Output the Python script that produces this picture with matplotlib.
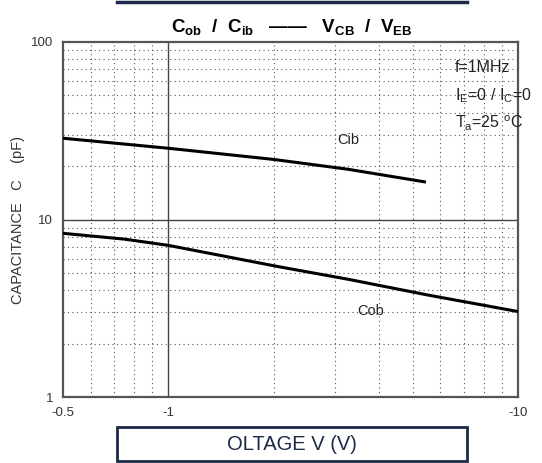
import numpy as np
import matplotlib
matplotlib.use("Agg")
import matplotlib.pyplot as plt
from matplotlib.patches import Rectangle
from matplotlib.lines import Line2D

plt.rcParams['font.family'] = ['Liberation Sans', 'DejaVu Sans']
plt.rcParams['mathtext.fontset'] = 'custom'
plt.rcParams['mathtext.rm'] = 'Liberation Sans'
plt.rcParams['mathtext.it'] = 'Liberation Sans'
plt.rcParams['mathtext.bf'] = 'Liberation Sans:bold'

# |V| in volts (reverse bias, shown as negative), capacitance in pF
cib_v = [0.5, 1.0, 2.0, 3.26, 5.4]
cib_c = [28.7, 25.2, 21.8, 19.2, 16.3]
cob_v = [0.5, 0.75, 1.0, 2.07, 3.26, 5.5, 10.0]
cob_c = [8.36, 7.75, 7.15, 5.42, 4.61, 3.76, 3.03]

x_ticks = [0.5, 1, 10]
x_ticklabels = ['-0.5', '-1', '-10']
y_ticks = [1, 10, 100]
y_ticklabels = ['1', '10', '100']

navy = '#1b2a48'
grid_col = '#555555'

fig = plt.figure(figsize=(5.42, 4.63), dpi=100)
ax = fig.add_axes([63/542, 1 - 397/463, (518 - 63)/542, (397 - 42)/463])
ax.set_xscale('log')
ax.set_yscale('log')
ax.set_xlim(0.5, 10)
ax.set_ylim(1, 100)

# dotted minor grid
for v in [0.6, 0.7, 0.8, 0.9, 2, 3, 4, 5, 6, 7, 8, 9]:
    ax.axvline(v, color=grid_col, lw=0.8, ls=(0, (1, 3)), zorder=1)
for c in [2, 3, 4, 5, 6, 7, 8, 9, 20, 30, 40, 50, 60, 70, 80, 90]:
    ax.axhline(c, color=grid_col, lw=0.8, ls=(0, (1, 3)), zorder=1)
ax.axvline(1, color='#444444', lw=1.0, zorder=1)
ax.axhline(10, color='#444444', lw=1.0, zorder=1)

ax.plot(cib_v, cib_c, color='black', lw=2.2, zorder=3)
ax.plot(cob_v, cob_c, color='black', lw=2.2, zorder=3)

ax.set_xticks(x_ticks)
ax.set_xticklabels(x_ticklabels)
ax.set_yticks(y_ticks)
ax.set_yticklabels(y_ticklabels)
ax.xaxis.set_minor_locator(plt.NullLocator())
ax.yaxis.set_minor_locator(plt.NullLocator())
ax.tick_params(length=0, labelsize=9.5, colors='#333333', pad=7)
for s in ax.spines.values():
    s.set_color('#555555')
    s.set_linewidth(1.6)

ax.set_ylabel('CAPACITANCE   C    (pF)', fontsize=10.5, color='#333333')
ax.yaxis.set_label_coords(-0.083, 0.5)

ax.text(3.28, 28.0, 'Cib', fontsize=10.5, color='#222222', ha='center', va='center')
ax.text(3.79, 3.04, 'Cob', fontsize=10.5, color='#222222', ha='center', va='center')

ax.text(6.6, 72, 'f=1MHz', fontsize=11.5, color='#222222', va='center')
ax.text(6.6, 50, r'I$_{\rm E}$=0 / I$_{\rm C}$=0', fontsize=11.5, color='#222222', va='center')
ax.text(6.6, 35, r'T$_{\rm a}$=25 $^{\rm o}$C', fontsize=11.5, color='#222222', va='center')

fig.text(292/542, 1 - 27/463,
         r'$\mathbf{C_{ob}}$  /  $\mathbf{C_{ib}}$   ——   $\mathbf{V_{CB}}$  /  $\mathbf{V_{EB}}$',
         fontsize=13.5, fontweight='bold', ha='center', va='center', color='black')

# header border line and footer box
fig.add_artist(Line2D([117/542, 467/542], [1 - 2/463, 1 - 2/463], color=navy, lw=2.5,
                      transform=fig.transFigure))
fig.add_artist(Rectangle((117/542, 1 - 461/463), 350/542, 34/463, fill=False,
                         edgecolor=navy, lw=2, transform=fig.transFigure))
fig.text(292/542, 1 - 444/463, 'OLTAGE V (V)', fontsize=14.5, color=navy, ha='center', va='center')

fig.savefig('out.png', dpi=100)
